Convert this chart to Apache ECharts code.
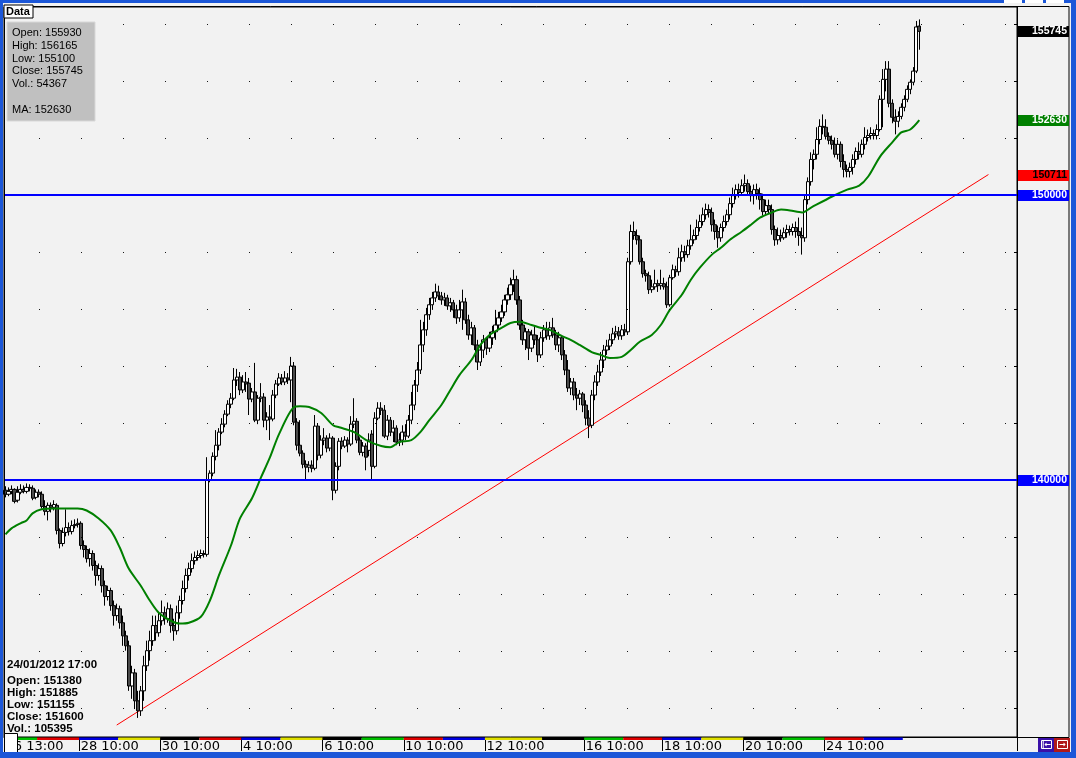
<!DOCTYPE html>
<html><head><meta charset="utf-8">
<script src="https://cdn.jsdelivr.net/npm/echarts@6/dist/echarts.min.js"></script>
<style>html,body{margin:0;padding:0;background:#f2f2f2;overflow:hidden}#c{width:1076px;height:758px}</style>
</head><body><div id="c"></div>
<script>
// ---------- data ----------
const opens = [
139640,139500,139600,139670,139290,139570,139670,139600,139740,139710,
139390,139570,139500,139070,138900,139110,139040,139110,138230,137770,
138160,138330,138190,138400,138440,138480,137700,137560,137240,137420,
137000,136650,136890,136290,135910,136120,135590,135240,135480,134990,
134530,134180,132770,133230,132250,131900,132600,133480,134010,134360,
134890,134640,135060,135340,135130,135480,134890,134710,135340,135770,
136190,136650,136890,137170,137280,137350,137420,137390,139990,140240,
140830,141220,141680,141960,142310,142660,142870,143510,143610,143160,
143440,143400,142840,143090,142100,142870,142910,142100,142210,142140,
142980,143370,143580,143440,143580,143510,144000,142030,141220,140940,
140550,140450,140520,140410,141890,140870,141400,141470,141120,141470,
139640,140480,141360,141190,141400,141260,141960,142060,141400,140970,
141190,141040,141610,140480,142170,142520,142450,141540,142100,141680,
141820,141330,141400,141680,141540,142100,142630,143330,143860,144740,
145270,145800,146150,146390,146600,146460,146320,146390,146110,146220,
145970,145690,145970,146250,145620,145090,145340,144740,144140,144560,
144920,144630,144990,145200,145440,145690,145900,146320,146500,146850,
147030,146320,145440,144920,145200,144630,145090,144920,144390,144990,
145270,145060,145340,145090,144740,144990,144390,143860,143230,143440,
142980,142870,143020,142630,142170,141920,142980,143440,143790,144210,
144560,144700,144920,145130,145200,145060,145270,145200,147660,148720,
148580,148430,147660,147240,147170,146680,146780,146890,146820,146890,
146780,146150,147100,147380,147310,147800,148010,147910,148220,148430,
148580,148860,149070,149310,149490,149390,148960,148720,148500,148860,
149070,149310,149700,149980,150190,150090,150330,150400,150120,149980,
150190,150050,149840,149420,149630,149490,148790,148430,148580,148500,
148680,148790,148720,148860,148720,148580,148500,149840,150470,151250,
151430,151950,152410,152380,152060,151920,151780,151430,151780,151180,
150900,150830,150970,151250,151530,151430,151780,152020,152090,152160,
152090,152300,153360,154060,154420,153220,152730,152590,152760,153080,
153360,153710,153960,154350,155930];
const closes = [
139500,139600,139670,139250,139570,139670,139600,139740,139710,139360,
139570,139500,139070,138900,139110,139040,139140,138230,137770,138160,
138330,138190,138400,138440,138480,137700,137560,137240,137420,137000,
136650,136890,136290,135910,136120,135590,135240,135480,134990,134530,
134180,132770,133230,132250,131900,132600,133480,134010,134360,134890,
134640,135060,135340,135130,135480,134890,134710,135340,135770,136190,
136650,136890,137170,137280,137350,137420,137390,139990,140240,140830,
141220,141680,141960,142310,142660,142870,143510,143610,143160,143440,
143370,142840,143090,142100,142870,142910,142100,142210,142140,142980,
143370,143580,143440,143580,143510,144000,142030,141220,140940,140550,
140450,140520,140410,141890,140870,141400,141470,141120,141470,139640,
140480,141360,141190,141400,141260,141960,142060,141400,140970,141190,
140800,141400,140480,142170,142520,142450,141540,142100,141680,141820,
141330,141400,141680,141540,142100,142630,143330,143860,144740,145270,
145800,146150,146390,146600,146460,146320,146390,146110,146220,145970,
145690,145970,146250,145620,145090,145340,144740,144140,144560,144920,
144630,144990,145200,145440,145690,145900,146320,146500,146850,147030,
146320,145440,144920,145200,144630,145090,144920,144390,144990,145270,
145060,145340,145090,144740,144990,144390,143860,143230,143440,142980,
142870,143020,142630,142170,141920,142980,143440,143790,144210,144560,
144700,144920,145130,145200,145060,145270,145200,147660,148720,148580,
148430,147660,147240,147170,146680,146780,146890,146820,146890,146780,
146150,147100,147380,147310,147800,148010,147910,148220,148430,148580,
148860,149070,149310,149490,149390,148960,148720,148500,148860,149070,
149310,149700,149980,150190,150090,150330,150400,150120,149980,150190,
150050,149840,149420,149630,149490,148790,148430,148580,148500,148680,
148790,148720,148860,148720,148580,148500,149840,150470,151250,151430,
151950,152410,152380,152060,151920,151780,151430,151780,151180,150900,
150830,150970,151250,151530,151430,151780,152020,152090,152160,152090,
152300,153360,154060,154420,153220,152730,152590,152760,153080,153360,
153710,153960,154350,155900,155745];
const lows = [
139390,139430,139500,139180,139210,139500,139530,139530,139600,139290,
139320,139390,139000,138760,138580,138860,138930,138090,137600,137670,
138020,138050,138090,138300,138330,137560,137280,137100,136960,136820,
136290,136470,136050,135590,135770,135410,134890,135060,134780,134180,
134010,132600,132320,131960,131650,131720,132250,133300,133660,134180,
134360,134500,134890,134920,134990,134640,134360,134570,135130,135630,
136050,136470,136750,137030,137170,137240,137280,137310,139920,140130,
140690,141040,141610,141850,142240,142520,142800,143300,142980,143050,
143090,142280,142730,142030,141960,142730,141850,141750,141400,142060,
142870,143300,143330,143330,143370,142730,141920,141040,140830,140410,
139990,140270,140270,140340,140690,140760,141220,140970,141010,139290,
139530,140340,141080,141120,140970,141190,141820,141290,140870,140830,
140340,140830,139990,140410,142100,142280,141470,141400,141540,141330,
141220,141190,141220,141400,141470,141960,142450,143090,143720,144490,
145060,145620,145970,146250,146320,146150,146110,145970,145900,145690,
145480,145550,145270,145480,144920,144740,144560,143860,144000,144280,
144390,144490,144740,144920,145270,145550,145760,146150,146320,146600,
146150,145270,144740,144560,144210,144490,144740,144140,144280,144850,
144920,144920,144990,144560,144490,144210,143680,143090,142980,142800,
142450,142630,142380,141920,141470,141820,142800,143300,143650,143930,
144390,144560,144770,144990,144920,144920,145060,145090,147560,148430,
148260,147560,147100,146960,146530,146570,146680,146600,146680,146680,
146040,146080,147030,147130,147170,147660,147660,147800,148080,148290,
148430,148720,148930,149140,149210,148720,148430,148150,148360,148720,
148930,149140,149560,149840,149910,149980,150120,149980,149770,149670,
149840,149490,149280,149310,149350,148610,148220,148260,148360,148430,
148500,148580,148580,148500,148220,147910,148360,149670,150330,150900,
151250,151780,152130,151950,151780,151600,151320,151250,150970,150620,
150620,150620,150720,151070,151250,151320,151600,151880,151950,151950,
151950,152230,152380,153640,153080,152520,152130,152380,152660,152940,
153260,153540,153850,154280,155100];
const highs = [
139780,139740,139810,139710,139780,139850,139810,139880,139850,139810,
139670,139670,139600,139290,139210,139210,139290,139180,138300,138330,
138970,138510,138580,138620,138650,138550,137880,137700,137600,137530,
137170,137070,137000,136470,136290,136220,135770,135660,135590,135240,
134710,134360,133480,133370,132600,132770,133830,134360,134710,135240,
135240,135340,135770,135560,135700,135630,135130,135590,135940,136470,
136890,137100,137420,137490,137530,137560,137530,140800,140340,140970,
141750,141820,142170,142450,142800,143050,143930,143900,143790,143680,
143790,143580,143230,144110,142980,143400,143050,142380,142630,143160,
143510,143750,143720,143820,143750,144320,144140,142170,142100,141040,
140690,140660,140690,142280,142000,141570,141820,141570,141640,141540,
140620,141470,141500,141540,141500,142240,142870,142170,141500,141330,
141290,141640,141750,142380,142730,142730,142630,142280,142210,142100,
141920,141640,141920,141960,142280,143090,143510,144140,145620,145550,
146040,146390,146600,146890,146820,146600,146570,146500,146390,146320,
146150,146320,146680,146390,145800,145550,145440,144920,144740,145090,
145020,145200,145410,145970,145900,146150,146500,146750,147100,147380,
147170,146460,145620,145340,145300,145270,145440,145090,145200,145440,
145550,145550,145690,145270,145200,145090,144560,144210,143580,143580,
143230,143160,143090,142800,142450,143160,143680,144040,144490,144740,
144920,145130,145340,145410,145370,145440,145480,147800,148960,149070,
148790,148580,147800,147380,147310,147030,147380,147030,147380,147100,
146960,147200,147560,147520,148150,148260,148220,148430,148960,148790,
149140,149310,149560,149700,149670,149560,149140,148930,149000,149280,
149490,149910,150260,150370,150400,150550,150720,150550,150330,150370,
150400,150260,150050,149840,149840,149670,148930,148860,148790,148860,
148960,148930,149000,149070,149210,148860,150020,150620,151500,151600,
152380,152660,152830,152660,152200,152090,152020,151950,151880,151430,
151070,151140,151430,151670,151850,151950,152380,152300,152380,152300,
152480,153500,154420,154700,154700,153360,153010,152940,153220,153500,
153850,154060,154490,156110,156165];
// moving average: bar index / value
const maIdx = [0,2,5,7,9,12,16,20,24,27,31,35,38,41,45,48,51,55,58,61,65,68,71,75,78,82,85,88,91,96,98,101,105,109,111,116,120,125,128,131,135,138,141,145,148,151,155,158,161,165,168,171,175,178,181,185,188,191,195,198,201,205,208,211,215,218,221,225,228,231,235,238,241,245,248,251,255,258,261,265,268,275,280,284,287,291,295,298,301,304];
const maVal = [138090,138300,138480,138580,138830,138970,139000,139000,139000,138930,138650,138230,137630,136890,136290,135770,135340,135060,134960,134990,135200,135770,136650,137700,138650,139360,140090,140800,141610,142560,142590,142560,142350,141920,141850,141680,141400,141190,141150,141330,141400,141680,142100,142630,143160,143680,144210,144740,145090,145340,145510,145550,145440,145340,145270,145060,144920,144740,144490,144390,144280,144320,144560,144850,145090,145440,145970,146500,147030,147450,147910,148150,148430,148720,148960,149210,149390,149490,149460,149390,149560,149950,150190,150330,150650,151360,151850,152200,152300,152630];
const trendIdx = [37, 327];
const trendVal = [131400, 150720];
const levels = [150000, 140000];
const gridLevels = [132000,134000,136000,138000,140000,142000,144000,146000,148000,150000,152000,154000,156000];
const tickIdx  = [0,25,52,79,106,133,160,193,219,246,273];
const tickText = ['26 13:00','28 10:00','30 10:00','4 10:00','6 10:00','10 10:00','12 10:00','16 10:00','18 10:00','20 10:00','24 10:00'];
const dayBounds = [0,11,25,38,52,65,79,92,106,119,133,146,160,179,193,206,219,232,246,259,273,286,299];
const tagValues = [155745,152630,150711,150000,140000];
const tagText = ['155745','152630','150711','150000','140000'];
const infoLines = ['Open: 155930','High: 156165','Low: 155100','Close: 155745','Vol.: 54367','','MA: 152630'];
const cursorLines = ['24/01/2012 17:00','Open: 151380','High: 151885','Low: 151155','Close: 151600','Vol.: 105395'];
const SLOTS = 337;

// ---------- styles ----------
const dayColors = ['#00c000','#e00000','#0000e0','#e0e000','#000000','#e00000','#0000e0','#e0e000','#000000','#00c000','#e00000','#0000e0','#e0e000','#000000','#00c000','#e00000','#0000e0','#e0e000','#000000','#00c000','#e00000','#0000e0'];
const tagBg = ['#000000','#008000','#ff0000','#0000ff','#0000ff'];
const tagFg = ['#ffffff','#ffffff','#000000','#ffffff','#ffffff'];

const slots = Array.from({length: SLOTS}, (_, i) => String(i));
const tickLabelAt = {};
tickIdx.forEach((t, k) => { tickLabelAt[t] = tickText[k]; });

const chart = echarts.init(document.getElementById('c'), null, {renderer: 'canvas'});
const option = {
  animation: false,
  backgroundColor: '#f2f2f2',
  grid: {left: 4, right: 59, top: 7, bottom: 21, show: true, backgroundColor: '#f2f2f2', borderColor: '#000', borderWidth: 1, containLabel: false},
  xAxis: {
    type: 'category', data: slots, boundaryGap: true,
    axisLine: {show: true, lineStyle: {color: '#000', width: 1}},
    axisTick: {show: true, interval: (i) => tickLabelAt[i] !== undefined, length: 14, lineStyle: {color: '#000'}},
    axisLabel: {interval: (i) => tickLabelAt[i] !== undefined, formatter: (v, i) => tickLabelAt[i] || '', align: 'left', color: '#000', fontFamily: 'DejaVu Sans', fontSize: 13, margin: 3},
    splitLine: {show: false}
  },
  yAxis: {
    type: 'value', position: 'right', min: 130980, max: 156600, scale: true,
    axisLine: {show: true, lineStyle: {color: '#000'}},
    axisTick: {show: true, inside: true, length: 3, customValues: gridLevels, lineStyle: {color: '#000'}},
    axisLabel: {show: false},
    splitLine: {show: false}
  },
  series: [
    {
      type: 'line', name: 'trend', data: trendIdx.map((x, k) => [x, trendVal[k]]),
      showSymbol: false, symbol: 'none', lineStyle: {color: '#ff0000', width: 1}, z: 2, silent: true,
      markLine: {silent: true, symbol: 'none', label: {show: false}, animation: false,
        lineStyle: {color: '#000', width: 1, type: [1, 41], dashOffset: 7, opacity: 0.9},
        emphasis: {disabled: true},
        data: gridLevels.map(v => ({yAxis: v}))}
    },
    {
      type: 'candlestick', name: 'price',
      data: opens.map((o, i) => [o, closes[i], lows[i], highs[i]]),
      barWidth: 3.6, barMaxWidth: 4, z: 3,
      itemStyle: {color: '#ffffff', color0: '#4a4a4a', borderColor: '#000', borderColor0: '#000', borderWidth: 1},
      markLine: {silent: true, symbol: 'none', label: {show: false}, animation: false,
        lineStyle: {color: '#0000ff', width: 2, type: 'solid'},
        emphasis: {disabled: true},
        data: levels.map(v => ({yAxis: v}))}
    },
    {
      type: 'line', name: 'MA', data: maIdx.map((x, k) => [x, maVal[k]]),
      showSymbol: false, symbol: 'none', smooth: 0.3, z: 4, silent: true,
      lineStyle: {color: '#008000', width: 2}
    }
  ]
};
chart.setOption(option);

function px(i, v) { return chart.convertToPixel({gridIndex: 0}, [i, v]); }
const band = px(1, 140000)[0] - px(0, 140000)[0];
const g = [];
// day colour strip
for (let k = 0; k < dayBounds.length - 1; k++) {
  const x0 = px(dayBounds[k], 140000)[0] - band / 2;
  const x1 = px(dayBounds[k + 1], 140000)[0] - band / 2;
  g.push({type: 'rect', silent: true, z: 50, shape: {x: x0, y: 737.5, width: x1 - x0, height: 2.5}, style: {fill: dayColors[k]}});
}
// right value tags
tagValues.forEach((v, k) => {
  const y = px(0, v)[1];
  g.push({type: 'rect', silent: true, z: 60, shape: {x: 1018, y: Math.round(y) - 5, width: 51, height: 11}, style: {fill: tagBg[k], stroke: null}});
  g.push({type: 'text', silent: true, z: 61, style: {text: tagText[k], x: 1067, y: Math.round(y) + 0.5, fill: tagFg[k], font: 'bold 10.5px "Liberation Sans"', textAlign: 'right', align: 'right', textVerticalAlign: 'middle', verticalAlign: 'middle'}});
});
// outer frame and right axis box
g.push({type: 'rect', silent: true, z: 40, shape: {x: 4.5, y: 6.5, width: 1064.5, height: 731}, style: {fill: null, stroke: '#000', lineWidth: 1}});
// info box top-left
g.push({type: 'rect', silent: true, z: 70, shape: {x: 7, y: 22, width: 88, height: 99}, style: {fill: '#c0c0c0', stroke: '#d8d8d8', lineWidth: 1}});
infoLines.forEach((t, k) => {
  g.push({type: 'text', silent: true, z: 71, style: {text: t, x: 12, y: 33 + k * 12.8, fill: '#000', font: '11px "Liberation Sans"', textVerticalAlign: 'middle', verticalAlign: 'middle'}});
});
// cursor info bottom-left
cursorLines.forEach((t, k) => {
  g.push({type: 'text', silent: true, z: 71, style: {text: t, x: 7, y: (k === 0 ? 664.5 : 680.5 + (k - 1) * 12), fill: '#000', font: 'bold 11.5px "Liberation Sans"', textVerticalAlign: 'middle', verticalAlign: 'middle'}});
});
// Data tab
g.push({type: 'rect', silent: true, z: 80, shape: {x: 4, y: 5, width: 29, height: 13}, style: {fill: '#ffffff', stroke: '#000', lineWidth: 1}});
g.push({type: 'text', silent: true, z: 81, style: {text: 'Data', x: 6, y: 12, fill: '#000', font: 'bold 11px "Liberation Sans"', textVerticalAlign: 'middle', verticalAlign: 'middle'}});
// white box bottom-left
g.push({type: 'rect', silent: true, z: 80, shape: {x: 4.5, y: 733.5, width: 13, height: 19}, style: {fill: '#ffffff', stroke: '#000', lineWidth: 1}});
// nav buttons bottom-right
g.push({type: 'rect', silent: true, z: 80, shape: {x: 1038, y: 738, width: 16, height: 14}, style: {fill: '#3a10a8'}});
g.push({type: 'rect', silent: true, z: 80, shape: {x: 1054, y: 738, width: 16, height: 14}, style: {fill: '#b01818'}});
g.push({type: 'rect', silent: true, z: 81, shape: {x: 1041.5, y: 740.5, width: 10, height: 8}, style: {fill: null, stroke: '#fff', lineWidth: 1}});
g.push({type: 'rect', silent: true, z: 81, shape: {x: 1057.5, y: 740.5, width: 10, height: 8}, style: {fill: null, stroke: '#fff', lineWidth: 1}});
g.push({type: 'text', silent: true, z: 82, style: {text: '|←', x: 1046.5, y: 745, fill: '#fff', font: 'bold 8px "DejaVu Sans"', textAlign: 'center', align: 'center', textVerticalAlign: 'middle', verticalAlign: 'middle'}});
g.push({type: 'text', silent: true, z: 82, style: {text: '→', x: 1062.5, y: 745, fill: '#fff', font: 'bold 8px "DejaVu Sans"', textAlign: 'center', align: 'center', textVerticalAlign: 'middle', verticalAlign: 'middle'}});
// window chrome (blue borders)
const blue = '#1c57d8';
g.push({type: 'rect', silent: true, z: 90, shape: {x: 0, y: 0, width: 1076, height: 3}, style: {fill: blue}});
g.push({type: 'rect', silent: true, z: 90, shape: {x: 0, y: 0, width: 3, height: 758}, style: {fill: blue}});
g.push({type: 'rect', silent: true, z: 90, shape: {x: 1071, y: 0, width: 5, height: 758}, style: {fill: blue}});
g.push({type: 'rect', silent: true, z: 90, shape: {x: 0, y: 752, width: 1076, height: 6}, style: {fill: blue}});
[1004, 1025, 1046].forEach(x => g.push({type: 'rect', silent: true, z: 91, shape: {x: x, y: 0, width: 18, height: 3}, style: {fill: '#ffffff'}}));
chart.setOption({graphic: {elements: g}});
</script>
</body></html>
